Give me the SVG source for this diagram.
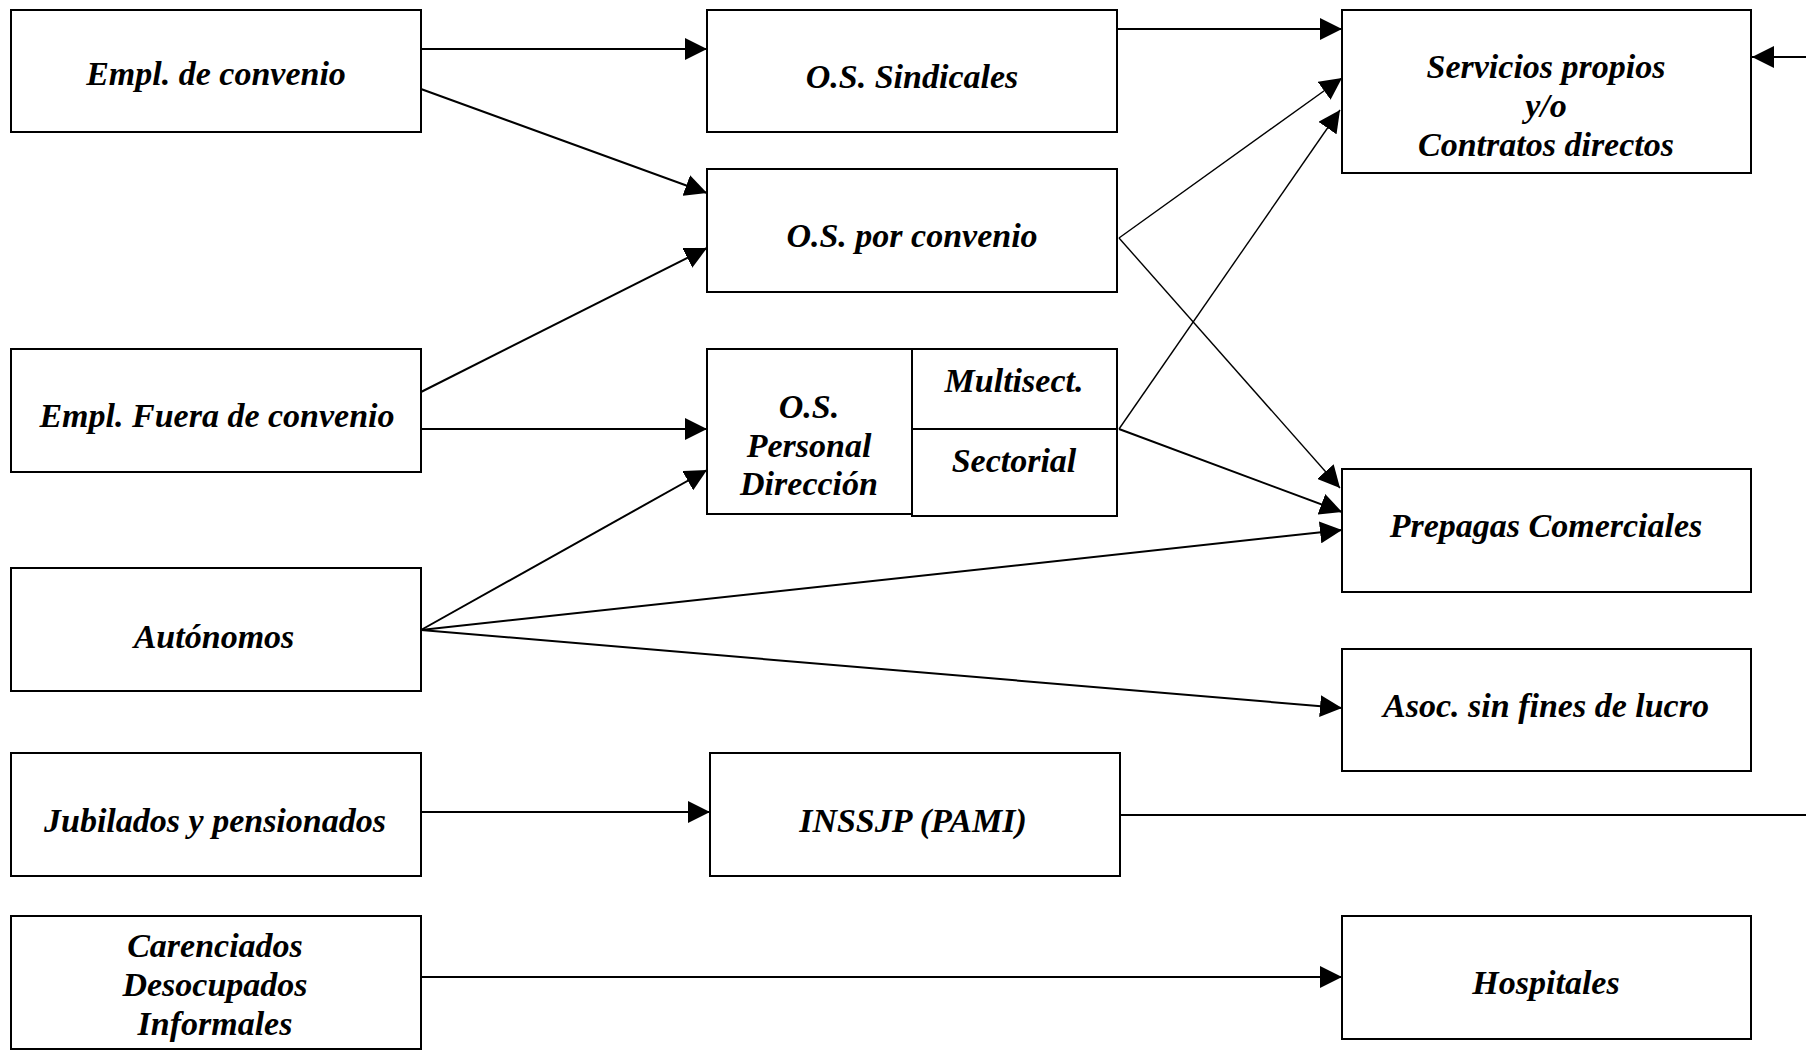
<svg xmlns="http://www.w3.org/2000/svg" width="1806" height="1050" viewBox="0 0 1806 1050">
<style>
.box{fill:#fff;stroke:#000;stroke-width:2}
.t{font-family:"Liberation Serif","Times New Roman",serif;font-weight:bold;font-style:italic;font-size:34px;fill:#000;text-anchor:middle}
.e{fill:none;stroke:#000;stroke-width:2}
.th{stroke-width:1.4}
</style>
<defs>
<marker id="ah" markerUnits="userSpaceOnUse" markerWidth="22" markerHeight="22" refX="21" refY="10.5" orient="auto" viewBox="0 0 21 21">
<path d="M0,0 L21,10.5 L0,21 z" fill="#000"/>
</marker>
</defs>
<rect width="1806" height="1050" fill="#fff"/>
<g id="n-empl-convenio"><rect class="box" x="11" y="10" width="410" height="122"/><text class="t" x="216" y="85">Empl. de convenio</text></g>
<g id="n-os-sindicales"><rect class="box" x="707" y="10" width="410" height="122"/><text class="t" x="912" y="88">O.S. Sindicales</text></g>
<g id="n-servicios"><rect class="box" x="1342" y="10" width="409" height="163"/><text class="t" x="1546" y="78">Servicios propios</text><text class="t" x="1546" y="117">y/o</text><text class="t" x="1546" y="156">Contratos directos</text></g>
<g id="n-os-convenio"><rect class="box" x="707" y="169" width="410" height="123"/><text class="t" x="912" y="247">O.S. por convenio</text></g>
<g id="n-empl-fuera"><rect class="box" x="11" y="349" width="410" height="123"/><text class="t" x="217" y="427">Empl. Fuera de convenio</text></g>
<g id="n-os-personal"><rect class="box" x="707" y="349" width="205" height="165"/><text class="t" x="809" y="418">O.S.</text><text class="t" x="809" y="457">Personal</text><text class="t" x="809" y="495">Dirección</text></g>
<g id="n-multisect"><rect class="box" x="912" y="349" width="205" height="80"/><text class="t" x="1014" y="392">Multisect.</text></g>
<g id="n-sectorial"><rect class="box" x="912" y="429" width="205" height="87"/><text class="t" x="1014" y="472">Sectorial</text></g>
<g id="n-prepagas"><rect class="box" x="1342" y="469" width="409" height="123"/><text class="t" x="1546" y="537">Prepagas Comerciales</text></g>
<g id="n-autonomos"><rect class="box" x="11" y="568" width="410" height="123"/><text class="t" x="214" y="648">Autónomos</text></g>
<g id="n-asoc"><rect class="box" x="1342" y="649" width="409" height="122"/><text class="t" x="1546" y="717">Asoc. sin fines de lucro</text></g>
<g id="n-jubilados"><rect class="box" x="11" y="753" width="410" height="123"/><text class="t" x="215" y="832">Jubilados y pensionados</text></g>
<g id="n-inssjp"><rect class="box" x="710" y="753" width="410" height="123"/><text class="t" x="913" y="832">INSSJP (PAMI)</text></g>
<g id="n-carenciados"><rect class="box" x="11" y="916" width="410" height="133"/><text class="t" x="215" y="957">Carenciados</text><text class="t" x="215" y="996">Desocupados</text><text class="t" x="215" y="1035">Informales</text></g>
<g id="n-hospitales"><rect class="box" x="1342" y="916" width="409" height="123"/><text class="t" x="1546" y="994">Hospitales</text></g>
<g id="connectors">
<line class="e" x1="421" y1="49" x2="707" y2="49" marker-end="url(#ah)"/>
<line class="e" x1="421" y1="89" x2="707" y2="193" marker-end="url(#ah)"/>
<line class="e" x1="421" y1="392" x2="707" y2="248" marker-end="url(#ah)"/>
<line class="e" x1="421" y1="429" x2="707" y2="429" marker-end="url(#ah)"/>
<line class="e" x1="421" y1="630" x2="707" y2="470" marker-end="url(#ah)"/>
<line class="e" x1="421" y1="630" x2="1342" y2="530" marker-end="url(#ah)"/>
<line class="e" x1="421" y1="630" x2="1342" y2="708" marker-end="url(#ah)"/>
<line class="e" x1="421" y1="812" x2="710" y2="812" marker-end="url(#ah)"/>
<line class="e" x1="1120" y1="815" x2="1806" y2="815"/>
<line class="e" x1="421" y1="977" x2="1342" y2="977" marker-end="url(#ah)"/>
<line class="e" x1="1117" y1="29" x2="1342" y2="29" marker-end="url(#ah)"/>
<line class="e th" x1="1119" y1="238" x2="1342" y2="78" marker-end="url(#ah)"/>
<line class="e th" x1="1119" y1="429" x2="1340" y2="110" marker-end="url(#ah)"/>
<line class="e th" x1="1119" y1="238" x2="1340" y2="488" marker-end="url(#ah)"/>
<line class="e" x1="1119" y1="429" x2="1342" y2="512" marker-end="url(#ah)"/>
<line class="e" x1="1806" y1="57" x2="1752" y2="57" marker-end="url(#ah)"/>
</g>
</svg>
